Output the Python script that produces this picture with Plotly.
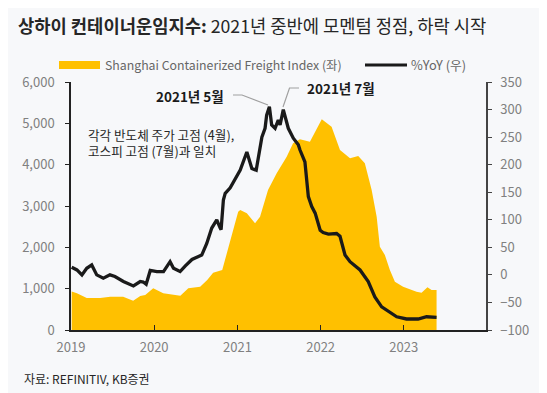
import plotly.graph_objects as go

# ---------------- data ----------------
scfi_dates = [
    "2019-01-04", "2019-01-27", "2019-03-11", "2019-05-09", "2019-06-22", "2019-08-18",
    "2019-10-01", "2019-11-01", "2019-11-23", "2019-12-28", "2020-02-10", "2020-03-25",
    "2020-04-25", "2020-05-30", "2020-07-21", "2020-08-21", "2020-09-16", "2020-10-26",
    "2020-11-16", "2020-12-13", "2021-01-04", "2021-01-13", "2021-02-11", "2021-03-19",
    "2021-04-10", "2021-05-15", "2021-06-22", "2021-08-05", "2021-09-02", "2021-10-02",
    "2021-11-15", "2022-01-06", "2022-02-18", "2022-03-27", "2022-05-10", "2022-06-15",
    "2022-07-14", "2022-08-13", "2022-09-04", "2022-09-18", "2022-10-10", "2022-11-01",
    "2022-11-23", "2022-12-29", "2023-02-26", "2023-03-20", "2023-04-15", "2023-05-03",
    "2023-05-25",
]
scfi_values = [
    930, 890, 775, 775, 806, 806,
    710, 822, 846, 1008, 887, 846,
    830, 1008, 1048, 1210, 1386, 1451,
    1862, 2419, 2862, 2903, 2822, 2580,
    2741, 3387, 3790, 4192, 4516, 4613,
    4556, 5097, 4918, 4354, 4153, 4209,
    4032, 3387, 2741, 2016, 1814, 1451,
    1169, 1048, 927, 903, 1032, 968,
    968,
]

yoy_dates = [
    "2019-01-04", "2019-01-27", "2019-02-18", "2019-03-11", "2019-04-02", "2019-04-24",
    "2019-05-23", "2019-06-21", "2019-07-13", "2019-08-19", "2019-10-02", "2019-11-01",
    "2019-11-14", "2019-11-27", "2019-12-15", "2020-01-13", "2020-02-11", "2020-03-11",
    "2020-03-26", "2020-04-24", "2020-05-16", "2020-06-15", "2020-07-28", "2020-08-19",
    "2020-09-10", "2020-10-02", "2020-10-17", "2020-10-21", "2020-10-31", "2020-11-08",
    "2020-11-30", "2020-12-20", "2021-01-13", "2021-02-11", "2021-03-05", "2021-03-24",
    "2021-04-07", "2021-04-18", "2021-05-02", "2021-05-09", "2021-05-21", "2021-05-31",
    "2021-06-15", "2021-06-29", "2021-07-07", "2021-07-21", "2021-08-12", "2021-09-03",
    "2021-09-25", "2021-10-02", "2021-10-24", "2021-11-08", "2021-11-23", "2021-12-08",
    "2021-12-30", "2022-01-12", "2022-02-04", "2022-03-12", "2022-03-27", "2022-04-18",
    "2022-05-10", "2022-06-23", "2022-07-29", "2022-08-27", "2022-09-26", "2022-11-01",
    "2022-12-01", "2023-01-13", "2023-03-05", "2023-04-11", "2023-05-25",
]
yoy_values = [
    14, 9, 0, 12, 18, 0,
    -6, 0, -3, -12, -20, -12,
    -13, -17, 8, 6, 6, 24,
    12, 6, 16, 28, 36, 57,
    85, 100, 85, 82, 136, 148,
    158, 173, 190, 223, 193, 190,
    227, 250, 266, 290, 305, 272,
    266, 281, 272, 300, 266, 248,
    236, 227, 205, 142, 124, 112,
    81, 77, 74, 75, 70, 36,
    24, 9, -12, -40, -58, -67,
    -76, -80, -80, -76, -77,
]

left_ticks = [0, 1000, 2000, 3000, 4000, 5000, 6000]
right_ticks = [-100, -50, 0, 50, 100, 150, 200, 250, 300, 350]
year_ticks = ["2019-01-01", "2020-01-01", "2021-01-01", "2022-01-01", "2023-01-01"]
year_labels = ["2019", "2020", "2021", "2022", "2023"]

title_bold = "상하이 컨테이너운임지수:"
title_rest = " 2021년 중반에 모멘텀 정점, 하락 시작"
scfi_name = "Shanghai Containerized Freight Index (좌)"
yoy_name = "%YoY (우)"
note_text = "각각 반도체 주가 고점 (4월),<br>코스피 고점 (7월)과 일치"
label_may = "2021년 5월"
label_jul = "2021년 7월"
source_text = "자료: REFINITIV, KB증권"

# ---------------- layout geometry ----------------
# the page body has an 8px margin, so the figure is made 8px smaller and
# all page coordinates are shifted by 8px
OFF = 8
PAGE_W, PAGE_H = 547, 393
W, H = PAGE_W - OFF, PAGE_H - OFF
PL, PR, PT, PB = 71, 486, 82, 330          # plot box in page pixels
ML, MR, MT, MB = PL - OFF, W - (PR - OFF), PT - OFF, H - (PB - OFF)
PW, PH = PR - PL, PB - PT

def px(x):
    return (x - PL) / PW

def py(y):
    return (PB - y) / PH

FONT = "Noto Sans CJK KR"
YELLOW = "#FFC000"
BG = "#F7F8FA"
TICKC = "#808080"

fig = go.Figure()
fig.add_trace(go.Scatter(
    x=scfi_dates, y=scfi_values, name=scfi_name, mode="lines",
    line=dict(width=0, color=YELLOW), fill="tozeroy", fillcolor=YELLOW,
    yaxis="y", showlegend=False, hoverinfo="skip",
))
fig.add_trace(go.Scatter(
    x=yoy_dates, y=yoy_values, name=yoy_name, mode="lines",
    line=dict(width=3.3, color="#1a1a1a"), yaxis="y2", showlegend=False,
))

shapes = []
# legend swatches
shapes.append(dict(type="rect", xref="paper", yref="paper",
                   x0=px(59), x1=px(100), y0=py(69), y1=py(61),
                   fillcolor=YELLOW, line=dict(width=0)))
shapes.append(dict(type="line", xref="paper", yref="paper",
                   x0=px(365), x1=px(407), y0=py(65), y1=py(65),
                   line=dict(color="#1a1a1a", width=3.2)))
# leader lines
shapes.append(dict(type="path", xref="paper", yref="paper",
                   path=f"M {px(233)} {py(95)} L {px(242)} {py(95)} L {px(268)} {py(105)}",
                   line=dict(color="#a0a0a0", width=1.2)))
shapes.append(dict(type="path", xref="paper", yref="paper",
                   path=f"M {px(283)} {py(107)} L {px(289.5)} {py(88)} L {px(299)} {py(88)}",
                   line=dict(color="#a0a0a0", width=1.2)))

annotations = [
    dict(text=scfi_name, xref="paper", yref="paper", x=px(103), y=py(65),
         xanchor="left", yanchor="middle", showarrow=False,
         font=dict(family=FONT, size=12.3, color="#666666")),
    dict(text=yoy_name, xref="paper", yref="paper", x=px(409), y=py(65),
         xanchor="left", yanchor="middle", showarrow=False,
         font=dict(family=FONT, size=12.8, color="#666666")),
    dict(text=f"<b>{label_may}</b>", xref="paper", yref="paper", x=px(226), y=py(96),
         xanchor="right", yanchor="middle", showarrow=False,
         font=dict(family=FONT, size=13.5, color="#1a1a1a")),
    dict(text=f"<b>{label_jul}</b>", xref="paper", yref="paper", x=px(305), y=py(88),
         xanchor="left", yanchor="middle", showarrow=False,
         font=dict(family=FONT, size=13.5, color="#1a1a1a")),
    dict(text=note_text, xref="paper", yref="paper", x=px(86), y=py(123),
         xanchor="left", yanchor="top", showarrow=False, align="left",
         font=dict(family=FONT, size=12.6, color="#262626")),
    dict(text=source_text, xref="paper", yref="paper", x=px(22), y=py(378),
         xanchor="left", yanchor="middle", showarrow=False,
         font=dict(family=FONT, size=12, color="#262626")),
]

fig.update_layout(
    width=W, height=H,
    margin=dict(l=ML, r=MR, t=MT, b=MB, pad=0, autoexpand=False),
    paper_bgcolor=BG, plot_bgcolor=BG,
    font=dict(family=FONT),
    title=dict(text=f"<b>{title_bold}</b>{title_rest}", xref="container", yref="container",
               x=(18 - OFF) / W, y=1 - (27 - OFF) / H, xanchor="left", yanchor="middle",
               font=dict(family=FONT, size=17.7, color="#262626")),
    xaxis=dict(type="date", range=["2019-01-01", "2023-12-28"],
               tickvals=year_ticks, ticktext=year_labels,
               ticks="inside", ticklen=5, tickcolor="#222", tickwidth=1.2,
               showline=True, linecolor="#222", linewidth=1.5,
               showgrid=False, zeroline=False, ticklabelstandoff=5,
               tickfont=dict(family=FONT, size=13, color=TICKC)),
    yaxis=dict(range=[0, 6000], tickvals=left_ticks, tickformat=",",
               ticks="outside", ticklen=4, tickcolor="#222", tickwidth=1.2,
               showline=True, linecolor="#222", linewidth=1.5,
               showgrid=False, zeroline=False, ticklabelstandoff=8,
               tickfont=dict(family=FONT, size=13, color=TICKC)),
    yaxis2=dict(range=[-100, 350], tickvals=right_ticks, overlaying="y", side="right",
                ticks="outside", ticklen=4, tickcolor="#444", tickwidth=1.2,
                showline=True, linecolor="#444", linewidth=1.5,
                showgrid=False, zeroline=False, ticklabelstandoff=6,
                tickfont=dict(family=FONT, size=13, color=TICKC)),
    shapes=shapes, annotations=annotations,
)

fig.write_html("out.html")
